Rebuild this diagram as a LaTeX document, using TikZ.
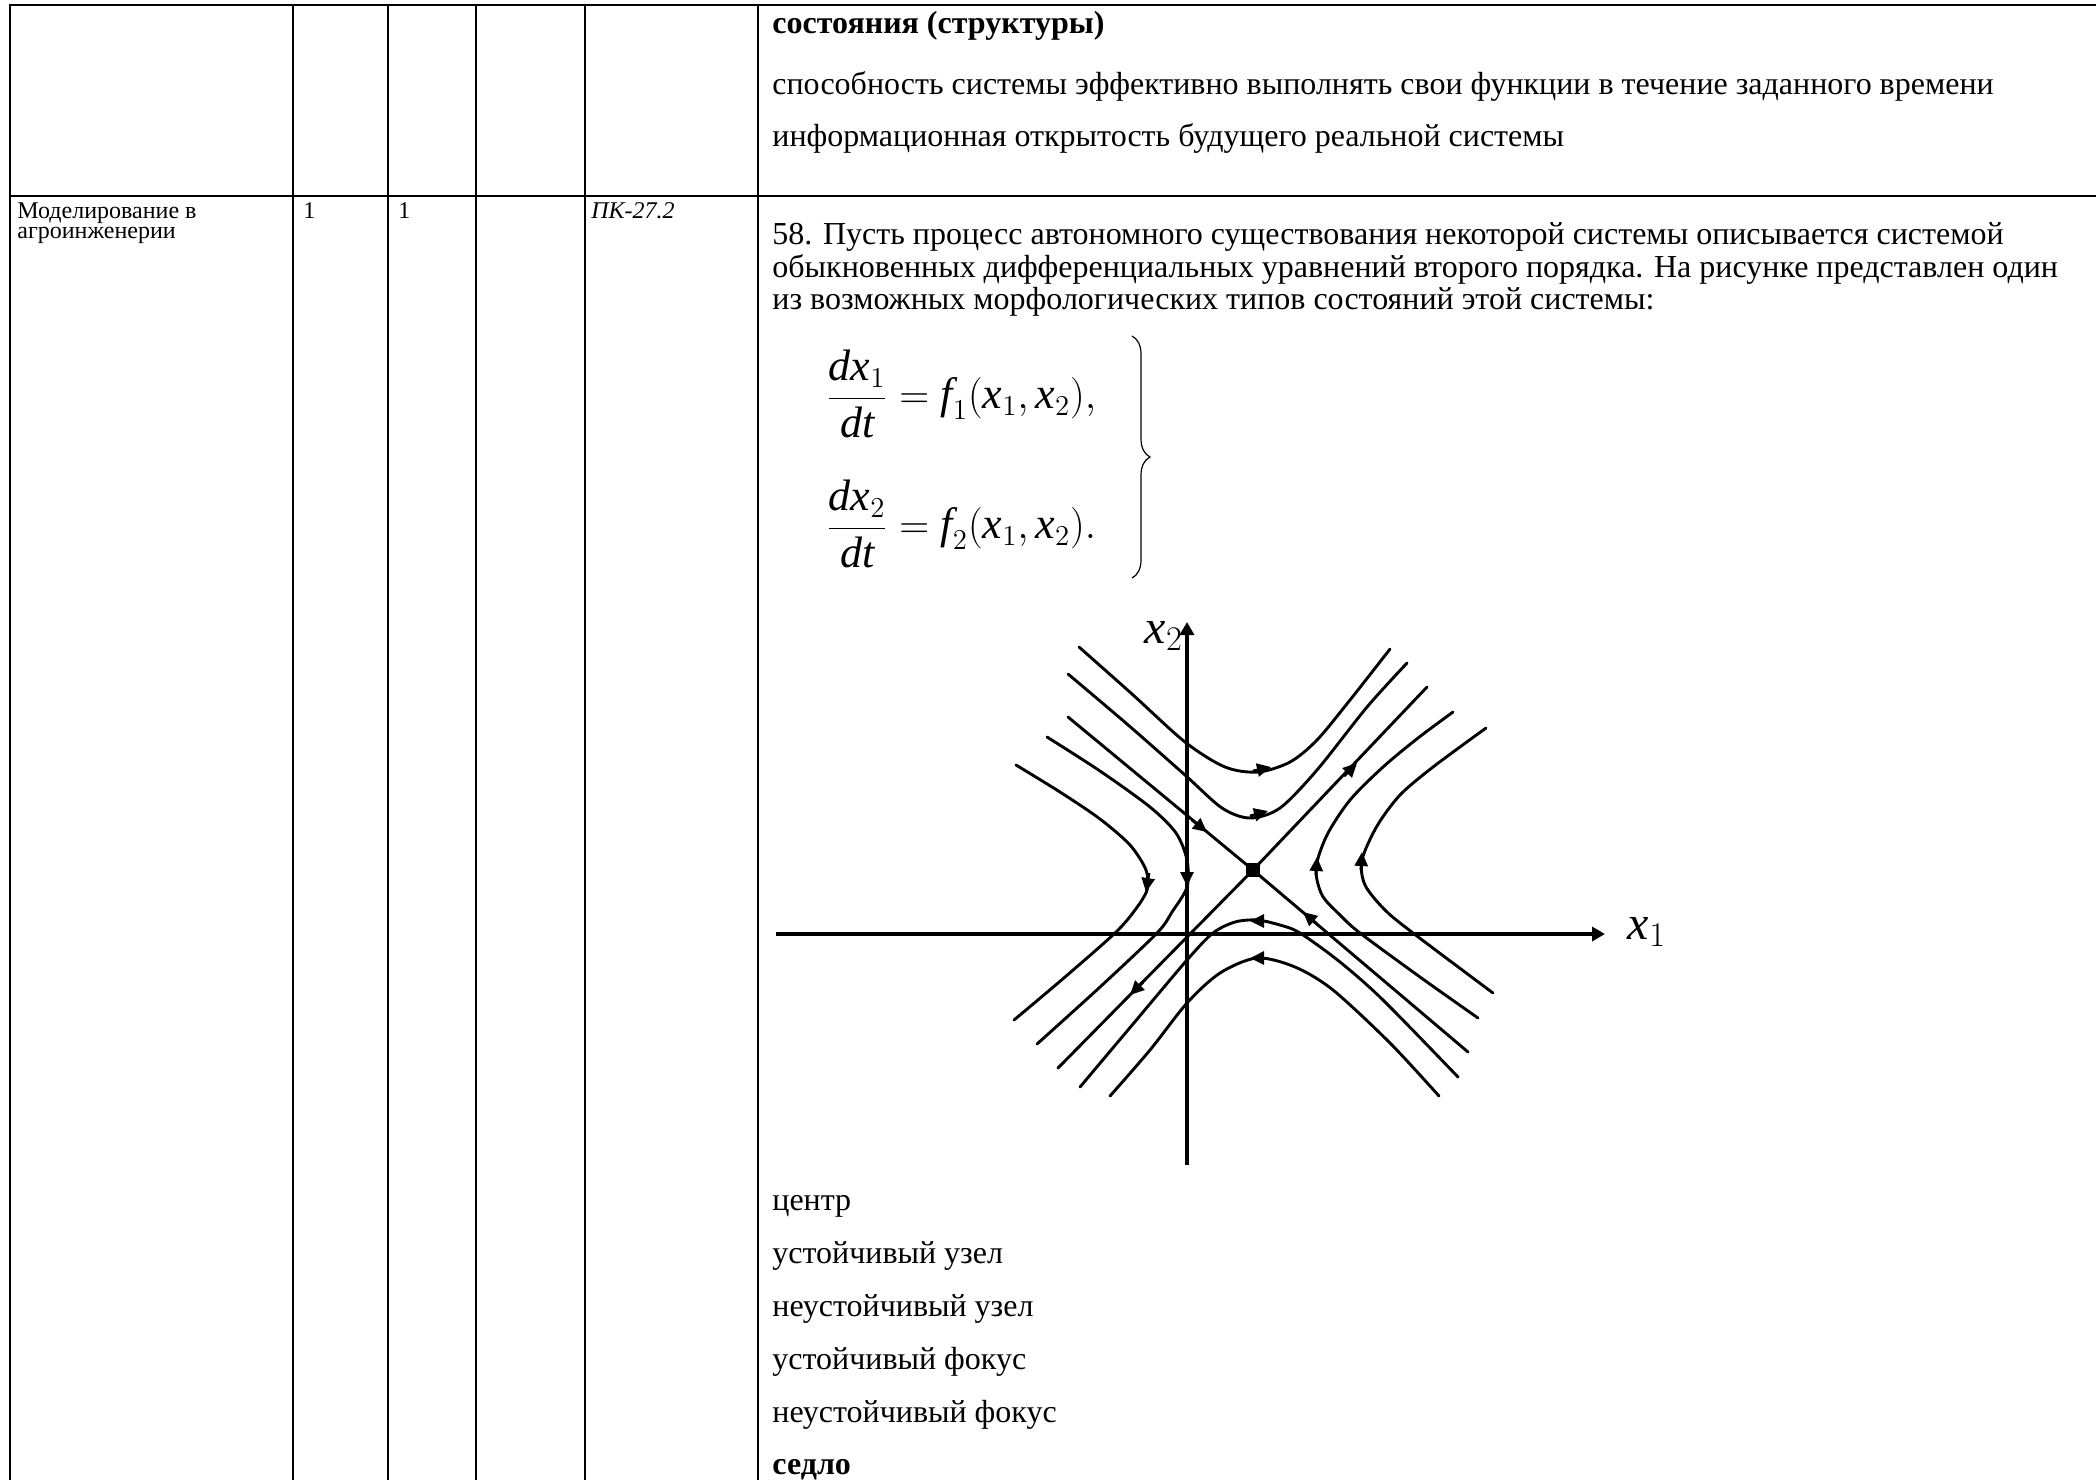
\documentclass[tikz,border=0pt]{standalone}
\usepackage{amsmath}
\usepackage{fontspec}
\setmainfont{Liberation Serif}
\usetikzlibrary{arrows.meta,decorations.pathreplacing}

\begin{document}
\begin{tikzpicture}[x=0.5pt, y=-0.5pt,
    rule/.style={line width=1pt, black},
    hrule/.style={line width=1.4pt, black},
    cell/.style={anchor=base west, inner sep=0pt, font=\fontsize{12}{12}\selectfont},
    txt/.style={anchor=base west, inner sep=0pt, font=\fontsize{16}{18}\selectfont},
    eq/.style={anchor=west, inner sep=0pt, font=\fontsize{22}{26}\selectfont},
    lbl/.style={inner sep=0pt, font=\fontsize{24}{24}\selectfont},
    traj/.style={line width=1.45pt, line cap=round},
    axis/.style={line width=1.6pt, -{Triangle[length=6.5pt,width=7pt]}},
    tip/.style={line width=1.4pt, -{Triangle[length=7pt,width=6.5pt]}}]

  \useasboundingbox (0,0) rectangle (2096,1480);

  % Table grid
  \draw[hrule] (10,5) -- (2096,5);
  \draw[hrule] (10,196) -- (2096,196);
  \foreach \xc in {10,293,388,476,585,758} {
    \draw[rule] (\xc,4) -- (\xc,1480);
  }

  % First row: end of the previous question
  \node[txt, font=\fontsize{16}{18}\selectfont\bfseries] (prevA) at (772,33) {состояния (структуры)};
  \node[txt] (prevB) at (772,94) {способность системы эффективно выполнять свои функции в течение заданного времени};
  \node[txt] (prevC) at (772,146) {информационная открытость будущего реальной системы};

  % Second row: left cells
  \node[cell] (subjA) at (17,218) {Моделирование в};
  \node[cell] (subjB) at (17,238) {агроинженерии};
  \node[cell] (semA) at (303,218) {1};
  \node[cell] (semB) at (398,218) {1};
  \node[cell, font=\fontsize{12}{12}\selectfont\itshape] (comp) at (591,218) {ПК-27.2};

  % Question text
  \node[txt] (qA) at (772,244) {58. Пусть процесс автономного существования некоторой системы описывается системой};
  \node[txt] (qB) at (772,277) {обыкновенных дифференциальных уравнений второго порядка. На рисунке представлен один};
  \node[txt] (qC) at (772,309) {из возможных морфологических типов состояний этой системы:};

  % System of equations
  \node[eq] (eqA) at (826,394) {$\displaystyle\frac{\textit{dx}_1}{\textit{dt}} = \textit{f}_1(\textit{x}_1, \textit{x}_2),$};
  \node[eq] (eqB) at (826,524) {$\displaystyle\frac{\textit{dx}_2}{\textit{dt}} = \textit{f}_2(\textit{x}_1, \textit{x}_2).$};
  \draw[decorate, decoration={brace, amplitude=9pt}, line width=0.6pt] (1132,336) -- (1132,578);

  % Phase portrait: axes
  \draw[axis] (776,934) -- (1605,934);
  \draw[axis] (1187,1165) -- (1187,622);
  \node[lbl] (xA) at (1647,932) {$\textit{x}_1$};
  \node[lbl] (xB) at (1164,636) {$\textit{x}_2$};

  % Saddle point and separatrices
  \node[fill=black, minimum size=7pt, inner sep=0pt] (saddle) at (1253,870) {};
  \draw[traj] (1068,717) -- (saddle.center) -- (1468,1052);
  \draw[traj] (1058,1068) -- (saddle.center) -- (1427,687);

  % Trajectories (top, left, right, bottom)
  \draw[traj] plot[smooth] coordinates {(1079,647) (1132,694) (1185,742) (1225,767) (1258,772) (1290,762) (1317,740) (1350,700) (1390,649)};
  \draw[traj] plot[smooth] coordinates {(1068,674) (1127,724) (1185,775) (1222,808) (1250,818) (1280,808) (1317,770) (1367,707) (1407,663)};
  \draw[traj] plot[smooth] coordinates {(1047,737) (1100,771) (1150,807) (1176,833) (1187,860) (1187,887) (1172,912) (1157,933) (1100,987) (1037,1044)};
  \draw[traj] plot[smooth] coordinates {(1016,765) (1060,792) (1100,819) (1130,845) (1146,870) (1147,890) (1135,910) (1115,933) (1065,977) (1014,1020)};
  \draw[traj] plot[smooth] coordinates {(1453,712) (1418,738) (1383,767) (1350,800) (1327,835) (1316,868) (1322,895) (1340,915) (1360,933) (1420,977) (1478,1018)};
  \draw[traj] plot[smooth] coordinates {(1486,728) (1433,767) (1400,795) (1377,826) (1362,860) (1365,885) (1385,910) (1413,933) (1493,993)};
  \draw[traj] plot[smooth] coordinates {(1080,1087) (1133,1024) (1187,960) (1213,933) (1235,922) (1257,920) (1280,925) (1300,933) (1340,962) (1383,1000) (1458,1077)};
  \draw[traj] plot[smooth] coordinates {(1110,1096) (1150,1050) (1187,1003) (1220,973) (1257,958) (1295,967) (1333,990) (1390,1043) (1439,1096)};

  % Direction arrows
  \foreach \ax/\ay/\bx/\by in {1253/771/1271/767, 1250/816/1268/811, 1192/820/1207/832, 1344/776/1357/763,
                               1187/867/1187/886, 1149/873/1146/892, 1316/875/1317/857, 1361/870/1362/852,
                               1268/921/1250/921, 1268/958/1250/958, 1317/924/1303/912, 1143/982/1130/995} {
    \draw[tip] (\ax,\ay) -- (\bx,\by);
  }

  % Answer options
  \foreach \yy/\ans [count=\i] in {1210/центр, 1263/устойчивый узел, 1316/неустойчивый узел,
                                   1369/устойчивый фокус, 1422/неустойчивый фокус} {
    \node[txt] (ans\i) at (772,\yy) {\ans};
  }
  \node[txt, font=\fontsize{16}{18}\selectfont\bfseries] (ans6) at (772,1474) {седло};

\end{tikzpicture}
\end{document}
